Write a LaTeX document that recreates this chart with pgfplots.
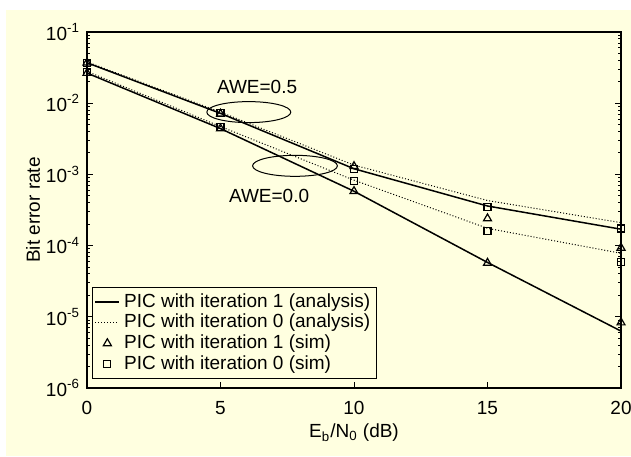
\documentclass[border=0pt]{standalone}
\usepackage{fontspec}
\setmainfont{Liberation Sans}
\usepackage{pgfplots}
\pgfplotsset{compat=1.18}
\definecolor{cream}{RGB}{255,255,224}
\newcommand{\chartfont}{\fontsize{9.5}{11.5}\selectfont}
\begin{document}
\begin{tikzpicture}
% page background: thin white margin, cream panel
\fill[white] (-43.5pt,-34pt) rectangle (272pt,194pt);
\fill[cream] (-40.5pt,-34pt) rectangle (272pt,189pt);
\path[use as bounding box] (-43.5pt,-34pt) rectangle (272pt,194pt);
\begin{axis}[
    at={(0pt,0pt)}, anchor=south west,
    scale only axis,
    width=267pt, height=178pt,
    ymode=log,
    xmin=0, xmax=20,
    ymin=1e-6, ymax=1e-1,
    xtick={0,5,10,15,20},
    ytick={1e-6,1e-5,1e-4,1e-3,1e-2,1e-1},
    yticklabels={10\textsuperscript{-6},10\textsuperscript{-5},10\textsuperscript{-4},10\textsuperscript{-3},10\textsuperscript{-2},10\textsuperscript{-1}},
    /pgf/number format/assume math mode=true,
    xtick pos=bottom, ytick pos=both,
    tick align=inside,
    major tick length=3pt, minor tick length=1.6pt,
    axis line style={line width=0.75pt},
    every tick/.style={black, line width=0.5pt},
    every tick label/.append style={font=\chartfont},
    xticklabel style={yshift=-3pt},
    label style={font=\chartfont},
    xlabel={E\textsubscript{b}/N\textsubscript{0} (dB)},
    ylabel={Bit error rate},
    xlabel style={at={(axis description cs:0.5,-0.126)}, anchor=center},
    ylabel style={at={(axis description cs:-0.101,0.5)}, anchor=center},
    legend style={at={(rel axis cs:0.0094,0.025)}, anchor=south west,
        draw=black, line width=0.6pt, fill=cream, font=\chartfont,
        cells={anchor=west}, inner sep=1pt, row sep=-2pt},
    legend image code/.code={\draw[mark repeat=2,mark phase=2,#1]
        plot coordinates {(0pt,0pt)(6pt,0pt)(12pt,0pt)};},
]
% analysis, iteration 1 (solid)
\addplot[black, line width=0.75pt, mark=none] coordinates {
    (0,0.037) (5,0.0072) (10,1.2e-3) (15,3.6e-4) (20,1.7e-4)};
\addlegendentry{PIC with iteration 1 (analysis)}
% analysis, iteration 0 (dotted)
\addplot[black, line width=0.5pt, densely dotted, mark=none] coordinates {
    (0,0.038) (5,0.0075) (10,1.35e-3) (15,4.3e-4) (20,2.1e-4)};
\addlegendentry{PIC with iteration 0 (analysis)}
% sim, iteration 1 (triangles)
\addplot[black, only marks, mark=triangle, mark size=2.3pt, line width=0.6pt] coordinates {
    (0,0.037) (5,0.0071) (10,1.3e-3) (15,2.4e-4) (20,9.3e-5)};
\addlegendentry{PIC with iteration 1 (sim)}
% sim, iteration 0 (squares)
\addplot[black, only marks, mark=square, mark size=1.75pt, line width=0.6pt] coordinates {
    (0,0.037) (5,0.0072) (10,1.2e-3) (15,3.5e-4) (20,1.74e-4)};
\addlegendentry{PIC with iteration 0 (sim)}
% AWE = 0.0 group
\addplot[black, line width=0.75pt, mark=none, forget plot] coordinates {
    (0,0.0265) (5,0.0044) (10,5.8e-4) (15,5.8e-5) (20,6.3e-6)};
\addplot[black, line width=0.5pt, densely dotted, mark=none, forget plot] coordinates {
    (0,0.028) (5,0.0047) (10,8.3e-4) (15,1.75e-4) (20,7.8e-5)};
\addplot[black, only marks, mark=triangle, mark size=2.3pt, line width=0.6pt, forget plot] coordinates {
    (0,0.0265) (5,0.0044) (10,5.8e-4) (15,5.7e-5) (20,8.3e-6)};
\addplot[black, only marks, mark=square, mark size=1.75pt, line width=0.6pt, forget plot] coordinates {
    (0,0.0276) (5,0.0046) (10,8.1e-4) (15,1.6e-4) (20,5.9e-5)};
% annotations
\draw[line width=0.5pt] (axis cs:6.06,7.5e-3) ellipse [x radius=21pt, y radius=5.25pt];
\draw[line width=0.5pt] (axis cs:7.79,1.32e-3) ellipse [x radius=21.2pt, y radius=5.25pt];
\node[font=\chartfont] at (axis cs:6.37,0.0168) {AWE=0.5};
\node[font=\chartfont] at (axis cs:6.82,4.95e-4) {AWE=0.0};
\end{axis}
\end{tikzpicture}
\end{document}
